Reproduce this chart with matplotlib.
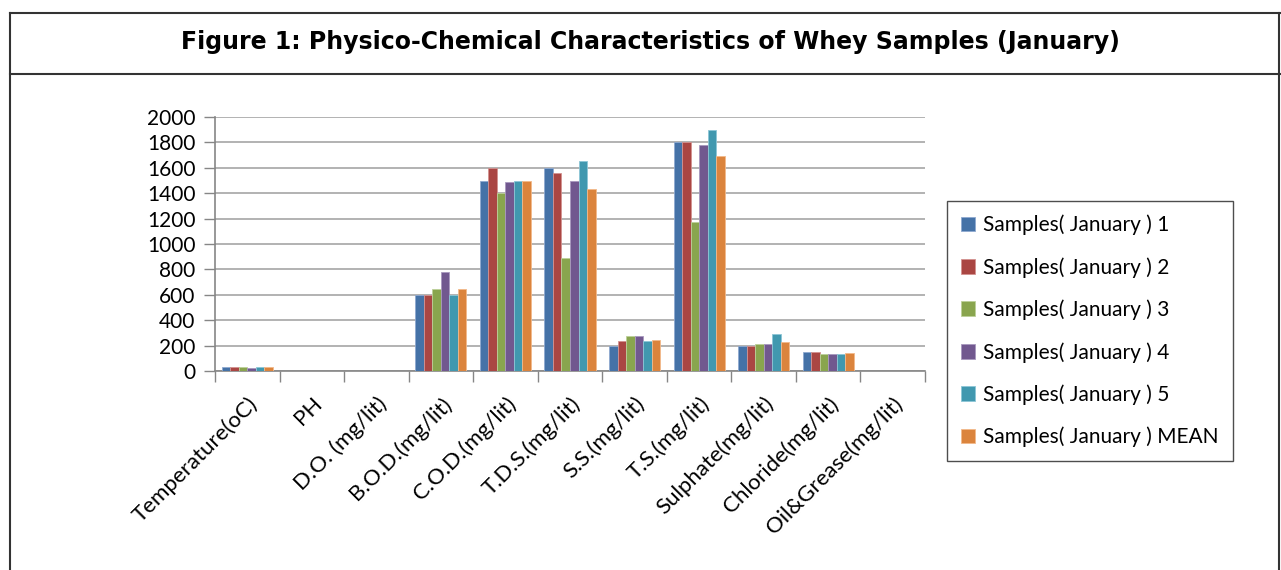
import matplotlib.pyplot as plt
import numpy as np
from matplotlib.lines import Line2D
from matplotlib.patches import Patch

categories = ['Temperature(oC)', 'PH', 'D.O. (mg/lit)', 'B.O.D.(mg/lit)', 'C.O.D.(mg/lit)',
              'T.D.S.(mg/lit)', 'S.S.(mg/lit)', 'T.S.(mg/lit)', 'Sulphate(mg/lit)',
              'Chloride(mg/lit)', 'Oil&Grease(mg/lit)']

sample_1 = [30, 0, 0, 600, 1500, 1600, 195, 1800, 195, 152, 0]
sample_2 = [30, 0, 0, 600, 1600, 1560, 234, 1800, 200, 152, 0]
sample_3 = [30, 0, 0, 645, 1400, 887, 278, 1173, 215, 134, 0]
sample_4 = [20, 0, 0, 780, 1490, 1500, 278, 1782, 215, 134, 0]
sample_5 = [30, 0, 0, 600, 1500, 1656, 234, 1900, 289, 134, 0]
sample_mean = [30, 0, 0, 645, 1500, 1433, 244, 1693, 226, 144, 0]

series_labels = ['Samples( January ) 1', 'Samples( January ) 2', 'Samples( January ) 3',
                 'Samples( January ) 4', 'Samples( January ) 5', 'Samples( January ) MEAN']
series = [sample_1, sample_2, sample_3, sample_4, sample_5, sample_mean]
colors = ['#4572A7', '#AA4643', '#89A54E', '#71588F', '#4198AF', '#DB843D']
edges = ['#8FA9D0', '#D39290', '#BCD09A', '#A898BE', '#8CC6D6', '#F2B98B']

plt.rcParams['font.family'] = ['Lato', 'DejaVu Sans']

fig = plt.figure(figsize=(12.81, 5.70), dpi=100)

# frame around the figure and title band
W, H = 1281, 570
for (x0, y0, x1, y1) in [(10, 13, 1281, 13), (10, 74, 1281, 74), (10, 13, 10, 570), (1279, 13, 1279, 570)]:
    fig.add_artist(Line2D([x0 / W, x1 / W], [1 - y0 / H, 1 - y1 / H], color='#333333', lw=1.5))

fig.text(650 / W, 1 - 42 / H, 'Figure 1: Physico-Chemical Characteristics of Whey Samples (January)',
         ha='center', va='center', fontsize=17, fontweight='bold', family='DejaVu Sans')

ax = fig.add_axes([215 / W, 1 - 371 / H, 710 / W, 254 / H])

x = np.arange(len(categories))
bw = 0.132
for i, (vals, c, e) in enumerate(zip(series, colors, edges)):
    ax.bar(x + (i - 2.5) * bw, vals, bw, color=c, edgecolor=e, linewidth=0.6,
           label=series_labels[i], zorder=3)

ax.set_xlim(-0.5, len(categories) - 0.5)
ax.set_ylim(0, 2000)
ax.set_yticks(np.arange(0, 2001, 200))
ax.yaxis.grid(True, color='#A6A6A6', lw=1.2, zorder=0)
ax.tick_params(axis='y', length=8, width=1, color='#868686', labelsize=15, pad=6)

ax.set_xticks(np.arange(len(categories) + 1) - 0.5)
ax.set_xticklabels([])
ax.set_xticks(x, minor=True)
ax.set_xticklabels(categories, minor=True, rotation=45, ha='right', rotation_mode='anchor',
                   fontsize=16)
ax.tick_params(axis='x', which='major', length=8, width=1, color='#868686')
ax.tick_params(axis='x', which='minor', length=0, pad=16)

for s in ['top', 'right']:
    ax.spines[s].set_visible(False)
for s in ['left', 'bottom']:
    ax.spines[s].set_color('#868686')
    ax.spines[s].set_linewidth(1.2)

handles = [Patch(facecolor=c, edgecolor=e, linewidth=0.6) for c, e in zip(colors, edges)]
leg = fig.legend(handles, series_labels, loc='upper left', bbox_to_anchor=(947 / W, 1 - 201 / H),
                 fontsize=15, frameon=True, fancybox=False, edgecolor='#222222',
                 labelspacing=1.05, handlelength=0.7, handleheight=0.7, handletextpad=0.4,
                 borderpad=0.65, borderaxespad=0)
leg.get_frame().set_linewidth(1.0)

fig.savefig('out.png', dpi=100)
